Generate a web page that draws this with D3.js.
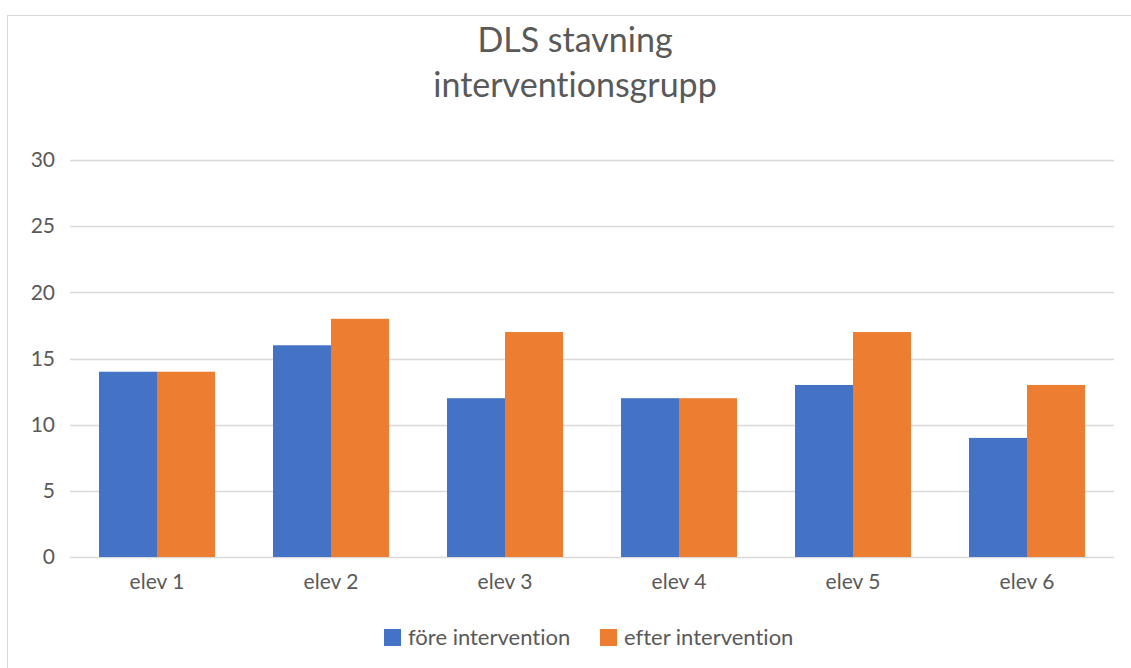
<!DOCTYPE html>
<html>
<head>
<meta charset="utf-8">
<script src="https://cdn.jsdelivr.net/npm/d3@7"></script>
<style>
  body { margin: 0; background: #fff; }
  text { font-family: Lato, "Open Sans", sans-serif; fill: #595959; font-variant-ligatures: none; }
</style>
</head>
<body>
<div id="chart"></div>
<script>
const categories = ['elev 1', 'elev 2', 'elev 3', 'elev 4', 'elev 5', 'elev 6'];
const seriesNames = ['före intervention', 'efter intervention'];
const fore = [14, 16, 12, 12, 13, 9];
const efter = [14, 18, 17, 12, 17, 13];
const yTicks = [0, 5, 10, 15, 20, 25, 30];
const titleLines = ['DLS stavning', 'interventionsgrupp'];
const colors = ['#4472c4', '#ed7d31'];

const width = 1131;
const height = 668;
const margin = { top: 160, right: 17, bottom: 111, left: 70 };

const svg = d3.select('#chart')
  .append('svg')
  .attr('width', width)
  .attr('height', height);

// chart area border
svg.append('rect')
  .attr('x', 7.5)
  .attr('y', 15.5)
  .attr('width', width + 10)
  .attr('height', height)
  .attr('fill', 'none')
  .attr('stroke', '#d9d9d9');

const x0 = d3.scaleBand()
  .domain(categories)
  .range([margin.left, width - margin.right])
  .paddingInner(1 / 3)
  .paddingOuter(1 / 6);

const x1 = d3.scaleBand()
  .domain(seriesNames)
  .range([0, x0.bandwidth()]);

const y = d3.scaleLinear()
  .domain([0, 30])
  .range([height - margin.bottom, margin.top]);

// gridlines
svg.append('g')
  .selectAll('line')
  .data(yTicks)
  .enter()
  .append('line')
  .attr('x1', margin.left)
  .attr('x2', width - margin.right)
  .attr('y1', d => Math.round(y(d)) + 0.5)
  .attr('y2', d => Math.round(y(d)) + 0.5)
  .attr('stroke', '#d9d9d9')
  .attr('stroke-width', 1.5);

// y axis labels
svg.append('g')
  .call(d3.axisLeft(y).tickValues(yTicks).tickSize(0).tickPadding(15))
  .attr('transform', `translate(${margin.left}, 0)`)
  .call(g => g.select('.domain').remove())
  .selectAll('text')
  .attr('font-size', 21)
  .attr('font-family', 'Lato, sans-serif')
  .attr('fill', '#595959');

// bars
const table = categories.map((c, i) => ({ cat: c, values: [fore[i], efter[i]] }));
const groups = svg.append('g')
  .selectAll('g')
  .data(table)
  .enter()
  .append('g')
  .attr('transform', d => `translate(${x0(d.cat)}, 0)`);

groups.selectAll('rect')
  .data(d => d.values.map((v, j) => ({ name: seriesNames[j], value: v, j })))
  .enter()
  .append('rect')
  .attr('x', d => x1(d.name))
  .attr('y', d => y(d.value))
  .attr('width', x1.bandwidth())
  .attr('height', d => y(0) - y(d.value))
  .attr('fill', d => colors[d.j]);

// x axis labels
svg.append('g')
  .attr('transform', `translate(0, ${y(0)})`)
  .call(d3.axisBottom(x0).tickSize(0).tickPadding(17))
  .call(g => g.select('.domain').remove())
  .selectAll('text')
  .attr('font-size', 21)
  .attr('font-family', 'Lato, sans-serif')
  .attr('fill', '#595959');

// title
svg.append('g')
  .selectAll('text')
  .data(titleLines)
  .enter()
  .append('text')
  .attr('x', 575)
  .attr('y', (d, i) => 52 + i * 45)
  .attr('text-anchor', 'middle')
  .attr('font-size', 34)
  .text(d => d);

// legend
const legendX = [384, 600];
const legend = svg.append('g')
  .selectAll('g')
  .data(seriesNames)
  .enter()
  .append('g')
  .attr('transform', (d, i) => `translate(${legendX[i]}, 629)`);

legend.append('rect')
  .attr('width', 17)
  .attr('height', 17)
  .attr('fill', (d, i) => colors[i]);

legend.append('text')
  .attr('x', 24)
  .attr('y', 16)
  .attr('font-size', 22)
  .text(d => d);
</script>
</body>
</html>
